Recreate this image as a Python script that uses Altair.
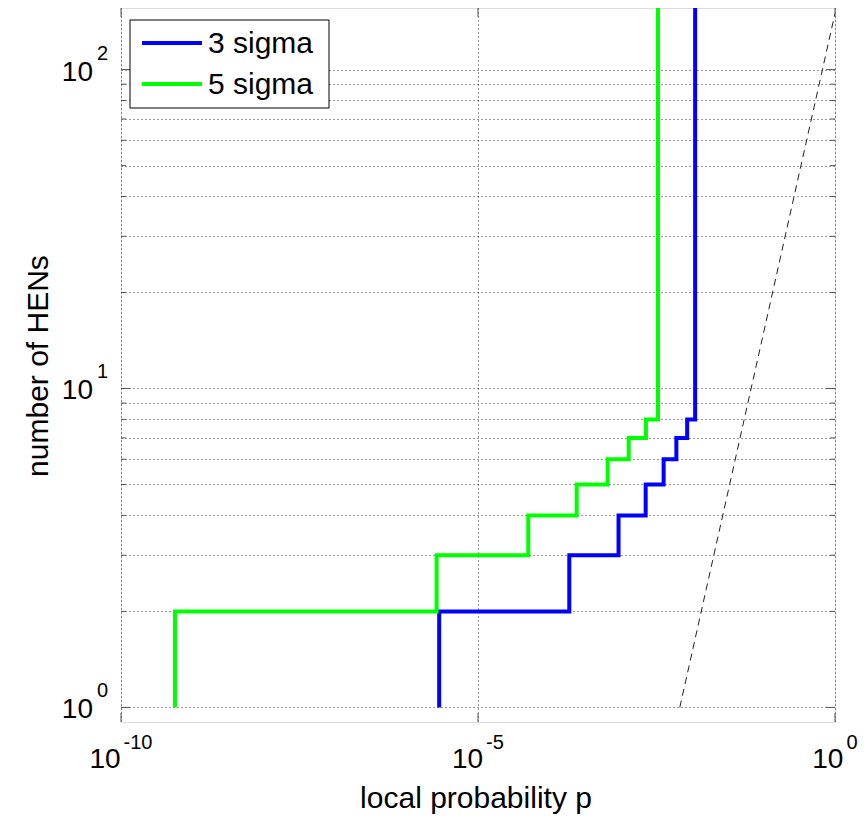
import altair as alt
import pandas as pd

# ---------------- data ----------------
series_names = ["3 sigma", "5 sigma"]
series_colors = ["#0000ff", "#00ff00"]
n_levels = [1, 2, 3, 4, 5, 6, 7, 8]
p_3sigma = [2.86e-6, 1.90e-4, 9.3e-4, 2.23e-3, 3.98e-3, 6.0e-3, 8.5e-3, 1.10e-2]
p_5sigma = [5.7e-10, 2.63e-6, 5.06e-5, 2.41e-4, 6.55e-4, 1.29e-3, 2.25e-3, 3.32e-3]
n_top = 1000
ref_p = [6.7e-3, 1.0]
ref_n = [1, 150]
x_tick_exps = [-10, -5, 0]
y_tick_exps = [0, 1, 2]
y_major = [1, 10, 100]
y_minor = [2, 3, 4, 5, 6, 7, 8, 9, 20, 30, 40, 50, 60, 70, 80, 90]
x_major = [1e-10, 1e-5, 1.0]

W, H = 714, 714
FONT = "Liberation Sans"

# ---------------- tables ----------------
rows = []
for name, ps in zip(series_names, [p_3sigma, p_5sigma]):
    for i, (p, n) in enumerate(zip(ps, n_levels)):
        rows.append({"series": name, "p": p, "n": n, "order": i})
    rows.append({"series": name, "p": ps[-1], "n": n_top, "order": len(ps)})
df_lines = pd.DataFrame(rows)
df_ref = pd.DataFrame({"p": ref_p, "n": ref_n})

xscale = alt.Scale(type="log", domain=[1e-10, 1.0], nice=False)
yscale = alt.Scale(type="log", domain=[0.9, 156], nice=False)

grid_common = dict(grid=True, labels=False, ticks=False, domain=False, title=None,
                   gridDash=[1, 3], gridColor="#000000", gridOpacity=0.8, gridWidth=1)
xaxis = alt.Axis(values=x_major, **grid_common)
yaxis = alt.Axis(values=y_major + y_minor, **grid_common)

lines = alt.Chart(df_lines).mark_line(
    interpolate="step-before", strokeWidth=4, clip=True
).encode(
    x=alt.X("p:Q", scale=xscale, axis=xaxis),
    y=alt.Y("n:Q", scale=yscale, axis=yaxis),
    color=alt.Color("series:N",
                    scale=alt.Scale(domain=series_names, range=series_colors),
                    legend=None),
    order="order:Q",
)

ref_line = alt.Chart(df_ref).mark_line(
    color="#222222", strokeWidth=1, strokeDash=[7, 5], clip=True
).encode(
    x=alt.X("p:Q", scale=xscale, axis=xaxis),
    y=alt.Y("n:Q", scale=yscale, axis=yaxis),
)

# ---------------- inward ticks ----------------
def ytick_layer(vals, length):
    d = pd.DataFrame({"v": vals})
    left = alt.Chart(d).mark_rule(color="#555555", strokeWidth=1).encode(
        x=alt.value(0), x2=alt.value(length),
        y=alt.Y("v:Q", scale=yscale, axis=yaxis))
    right = alt.Chart(d).mark_rule(color="#555555", strokeWidth=1).encode(
        x=alt.value(W - length), x2=alt.value(W),
        y=alt.Y("v:Q", scale=yscale, axis=yaxis))
    return [left, right]

d_xt = pd.DataFrame({"v": x_major})
xt_bottom = alt.Chart(d_xt).mark_rule(color="#555555", strokeWidth=1).encode(
    x=alt.X("v:Q", scale=xscale, axis=xaxis), y=alt.value(H - 9), y2=alt.value(H))
xt_top = alt.Chart(d_xt).mark_rule(color="#555555", strokeWidth=1).encode(
    x=alt.X("v:Q", scale=xscale, axis=xaxis), y=alt.value(0), y2=alt.value(9))

# ---------------- tick labels (10 + superscript exponent) ----------------
def exp_width(s):
    return sum(6.7 if c == "-" else 11.1 for c in s)

label_layers = []
for e in x_tick_exps:
    s = str(e)
    d = pd.DataFrame({"v": [10.0 ** e], "base": ["10"], "ex": [s]})
    shift = (28 - exp_width(s)) / 2
    label_layers.append(
        alt.Chart(d).mark_text(align="right", baseline="alphabetic", fontSize=28,
                               font=FONT, color="black", dx=shift).encode(
            x=alt.X("v:Q", scale=xscale, axis=xaxis), y=alt.value(759.5), text="base:N"))
    label_layers.append(
        alt.Chart(d).mark_text(align="left", baseline="alphabetic", fontSize=20,
                               font=FONT, color="black", dx=shift + 3).encode(
            x=alt.X("v:Q", scale=xscale, axis=xaxis), y=alt.value(741), text="ex:N"))

dy_lab = pd.DataFrame({"v": [10.0 ** e for e in y_tick_exps],
                       "base": ["10"] * len(y_tick_exps),
                       "ex": [str(e) for e in y_tick_exps]})
label_layers.append(
    alt.Chart(dy_lab).mark_text(align="right", baseline="alphabetic", fontSize=28,
                                font=FONT, color="black", dy=11).encode(
        x=alt.value(-28), y=alt.Y("v:Q", scale=yscale, axis=yaxis), text="base:N"))
label_layers.append(
    alt.Chart(dy_lab).mark_text(align="left", baseline="alphabetic", fontSize=20,
                                font=FONT, color="black", dy=-10).encode(
        x=alt.value(-24), y=alt.Y("v:Q", scale=yscale, axis=yaxis), text="ex:N"))

# ---------------- legend (drawn by hand, MATLAB style) ----------------
legend_layers = [
    alt.Chart(pd.DataFrame({"k": [0]})).mark_rect(
        fill="white", stroke="black", strokeWidth=1
    ).encode(x=alt.value(9), x2=alt.value(208), y=alt.value(12), y2=alt.value(100))
]
for i, (name, col) in enumerate(zip(series_names, series_colors)):
    d = pd.DataFrame({"label": [name]})
    yc = 35 + 41 * i
    legend_layers.append(
        alt.Chart(d).mark_rule(color=col, strokeWidth=4).encode(
            x=alt.value(21), x2=alt.value(81), y=alt.value(yc)))
    legend_layers.append(
        alt.Chart(d).mark_text(align="left", baseline="middle", fontSize=30,
                               font=FONT, color="black").encode(
            x=alt.value(87), y=alt.value(yc + 1), text="label:N"))

# ---------------- axis titles ----------------
d_xt_title = pd.DataFrame({"t": ["local probability p"]})
x_title = alt.Chart(d_xt_title).mark_text(
    align="center", baseline="alphabetic", fontSize=30, font=FONT, color="black"
).encode(x=alt.value(355), y=alt.value(800), text="t:N")
d_yt_title = pd.DataFrame({"t": ["number of HENs"]})
y_title = alt.Chart(d_yt_title).mark_text(
    align="center", baseline="alphabetic", fontSize=30, font=FONT, color="black", angle=270
).encode(x=alt.value(-73), y=alt.value(358), text="t:N")

layers = ([ref_line] + ytick_layer(y_major, 9) + ytick_layer(y_minor, 5)
          + [xt_bottom, xt_top, lines] + legend_layers + label_layers
          + [x_title, y_title])

chart = alt.layer(*layers).properties(
    width=W, height=H,
    autosize=alt.AutoSizeParams(type="none"),
    padding={"left": 121, "top": 8, "right": 31, "bottom": 94},
).configure_view(
    stroke="#808080", strokeWidth=1.5
).configure(font=FONT, background="white")

chart.save("out.html", embed_options={"renderer": "svg", "actions": False})
